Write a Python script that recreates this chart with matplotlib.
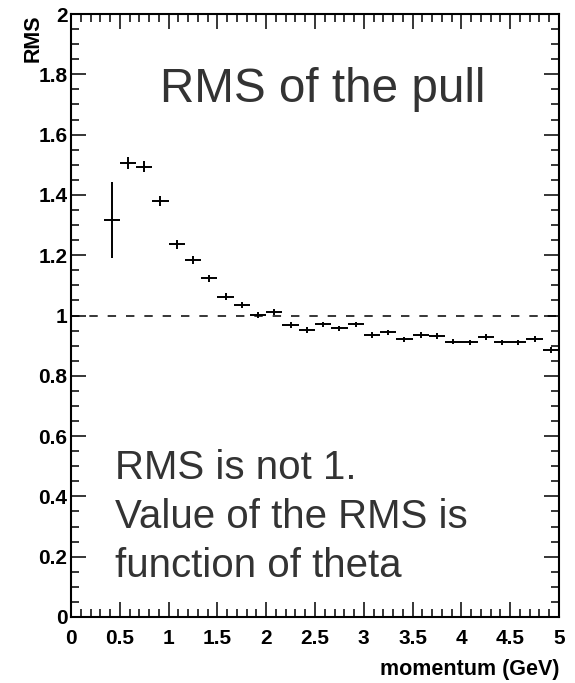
import numpy as np
import matplotlib
matplotlib.use("Agg")
import matplotlib.pyplot as plt
from matplotlib.ticker import MultipleLocator, FixedFormatter, FixedLocator

# Histogram binning in momentum (GeV)
n_bins = 30
p_min, p_max = 0.0, 5.0
first_filled_bin = 2

# RMS of the pull per momentum bin, with its uncertainty
rms = [1.317, 1.505, 1.494, 1.380, 1.236, 1.184, 1.123, 1.062, 1.035, 1.002,
       1.011, 0.968, 0.952, 0.971, 0.957, 0.971, 0.935, 0.944, 0.921, 0.935,
       0.932, 0.913, 0.911, 0.928, 0.911, 0.911, 0.921, 0.886]
rms_err = [0.127, 0.020, 0.018, 0.016, 0.014, 0.013, 0.012, 0.011, 0.010, 0.010,
           0.010, 0.009, 0.009, 0.009, 0.009, 0.009, 0.009, 0.009, 0.009, 0.009,
           0.009, 0.009, 0.009, 0.009, 0.009, 0.009, 0.010, 0.011]

x_ticks = [0, 0.5, 1, 1.5, 2, 2.5, 3, 3.5, 4, 4.5, 5]
x_tick_labels = ["0", "0.5", "1", "1.5", "2", "2.5", "3", "3.5", "4", "4.5", "5"]
y_ticks = [0, 0.2, 0.4, 0.6, 0.8, 1.0, 1.2, 1.4, 1.6, 1.8, 2.0]
y_tick_labels = ["0", "0.2", "0.4", "0.6", "0.8", "1", "1.2", "1.4", "1.6", "1.8", "2"]

reference_level = 1.0

edges = np.linspace(p_min, p_max, n_bins + 1)
centers = 0.5 * (edges[:-1] + edges[1:])[first_filled_bin:first_filled_bin + len(rms)]
half_width = 0.5 * (edges[1] - edges[0])

FONT = "Liberation Sans"

fig = plt.figure(figsize=(5.75, 6.83), dpi=100)
fig.patch.set_facecolor("white")
ax = fig.add_axes([71 / 575, 1 - 617 / 683, 488 / 575, 603 / 683])

ax.errorbar(centers, rms, xerr=half_width, yerr=rms_err, fmt="none",
            ecolor="black", elinewidth=1.4, capsize=0)
ax.axhline(reference_level, color="black", lw=1.1, ls=(0, (5.5, 6.5)))

ax.set_xlim(p_min, p_max)
ax.set_ylim(0, 2)

ax.xaxis.set_major_locator(FixedLocator(x_ticks))
ax.xaxis.set_major_formatter(FixedFormatter(x_tick_labels))
ax.xaxis.set_minor_locator(MultipleLocator(0.1))
ax.yaxis.set_major_locator(FixedLocator(y_ticks))
ax.yaxis.set_major_formatter(FixedFormatter(y_tick_labels))
ax.yaxis.set_minor_locator(MultipleLocator(0.05))

ax.tick_params(which="both", direction="in", top=True, right=True,
               color="black", width=1.1)
ax.tick_params(which="major", length=11)
ax.tick_params(which="minor", length=6)
ax.tick_params(axis="x", which="major", pad=9)
ax.tick_params(axis="y", which="major", pad=2.5)
for lab in ax.get_xticklabels() + ax.get_yticklabels():
    lab.set_fontfamily(FONT)
    lab.set_fontweight("bold")
    lab.set_fontsize(15)

for sp in ax.spines.values():
    sp.set_linewidth(1.5)
    sp.set_color("black")

ax.set_xlabel("momentum (GeV)", fontfamily=FONT, fontweight="bold",
              fontsize=15.5, loc="right")
ax.xaxis.label.set_va("baseline")
ax.xaxis.set_label_coords(1.0, (617 - 675) / 603)

ax.set_ylabel("RMS", fontfamily=FONT, fontweight="bold", fontsize=15.5,
              loc="top")
ax.yaxis.set_label_coords((44 - 71) / 488, 1.0)

ax.text(0.182, 0.854, "RMS of the pull", transform=ax.transAxes,
        fontfamily=FONT, fontsize=34.3, color="#333333", va="baseline", ha="left")

note_lines = ["RMS is not 1.", "Value of the RMS is", "function of theta"]
note_baselines = [0.2284, 0.1471, 0.0668]
for line, yb in zip(note_lines, note_baselines):
    ax.text(0.0902, yb, line, transform=ax.transAxes, fontfamily=FONT,
            fontsize=29, color="#333333", va="baseline", ha="left")

fig.savefig("out.png", dpi=100)
